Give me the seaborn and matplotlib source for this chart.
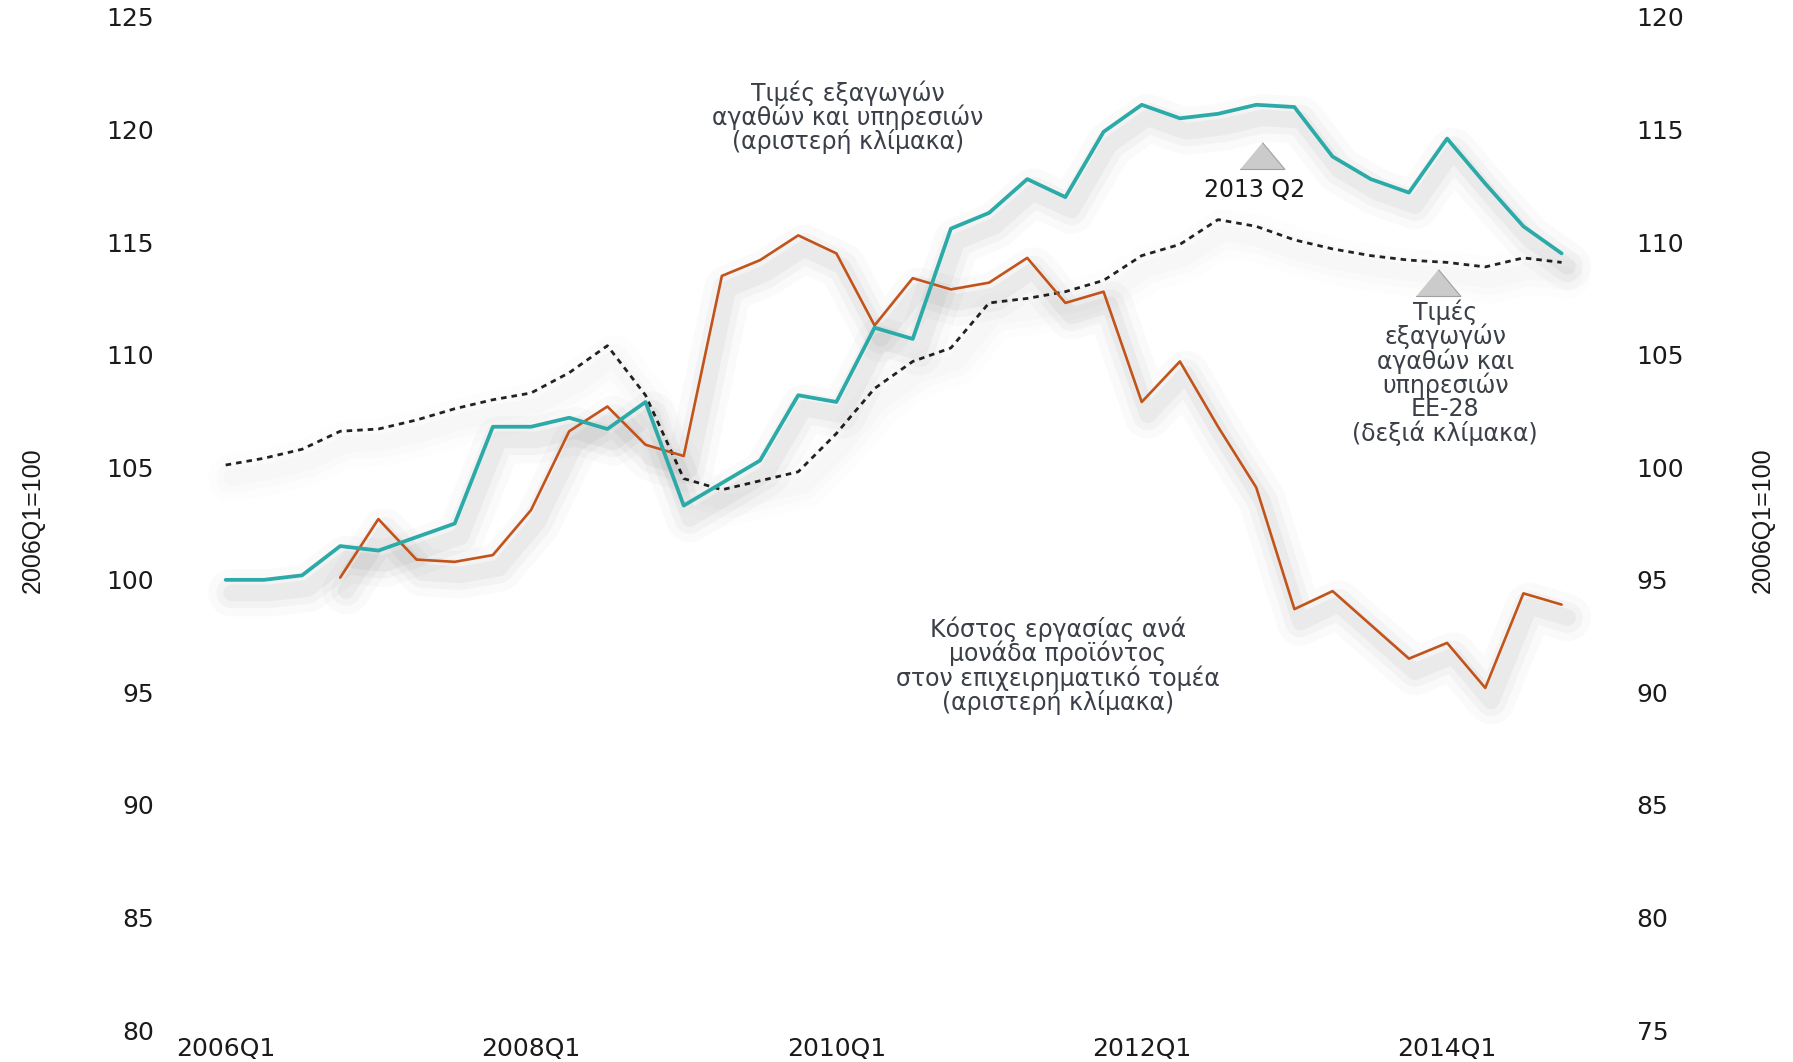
import numpy as np
import pandas as pd
import matplotlib
matplotlib.use("Agg")
import matplotlib.pyplot as plt
from matplotlib.transforms import offset_copy
import seaborn as sns

# τριμηνιαία δεδομένα 2006Q1 - 2014Q4
quarters = [f"{y}Q{q}" for y in range(2006, 2015) for q in range(1, 5)]

# Τιμές εξαγωγών αγαθών και υπηρεσιών (αριστερή κλίμακα)
export_prices_gr = [100.0, 100.0, 100.2, 101.5, 101.3, 101.9, 102.5, 106.8, 106.8, 107.2,
                    106.7, 107.9, 103.3, 104.3, 105.3, 108.2, 107.9, 111.2, 110.7, 115.6,
                    116.3, 117.8, 117.0, 119.9, 121.1, 120.5, 120.7, 121.1, 121.0, 118.8,
                    117.8, 117.2, 119.6, 117.6, 115.7, 114.5]

# Κόστος εργασίας ανά μονάδα προϊόντος (αριστερή κλίμακα), ξεκινά από 2006Q4
ulc_business = [np.nan, np.nan, np.nan, 100.1, 102.7, 100.9, 100.8, 101.1, 103.1, 106.6,
                107.7, 106.0, 105.5, 113.5, 114.2, 115.3, 114.5, 111.3, 113.4, 112.9,
                113.2, 114.3, 112.3, 112.8, 107.9, 109.7, 106.8, 104.1, 98.7, 99.5,
                98.0, 96.5, 97.2, 95.2, 99.4, 98.9]

# Τιμές εξαγωγών ΕΕ-28 (δεξιά κλίμακα)
export_prices_eu = [100.1, 100.4, 100.8, 101.6, 101.7, 102.1, 102.6, 103.0, 103.3, 104.2,
                    105.4, 103.2, 99.5, 99.0, 99.4, 99.8, 101.5, 103.5, 104.7, 105.3,
                    107.3, 107.5, 107.8, 108.3, 109.4, 109.9, 111.0, 110.7, 110.1, 109.7,
                    109.4, 109.2, 109.1, 108.9, 109.3, 109.1]

left_ticks = [80, 85, 90, 95, 100, 105, 110, 115, 120, 125]
right_ticks = [75, 80, 85, 90, 95, 100, 105, 110, 115, 120]
x_tick_labels = ["2006Q1", "2008Q1", "2010Q1", "2012Q1", "2014Q1"]

df = pd.DataFrame({
    "t": np.arange(len(quarters)),
    "gr": export_prices_gr,
    "ulc": ulc_business,
    "eu": export_prices_eu,
})

sns.set_style("white")
plt.rcParams["font.family"] = ["DejaVu Sans"]

teal = "#2baaa7"
orange = "#c2531b"
txt_col = "#3a3f48"

fig = plt.figure(figsize=(17.93, 10.62), dpi=100)
ax = fig.add_axes([0.095, 0.030, 0.81, 0.954])
ax2 = ax.twinx()
ax.set_zorder(ax2.get_zorder() + 1)
ax.patch.set_visible(False)


# απαλή σκιά κάτω από τις γραμμές
def soft_shadow(axis, col, strength=1.0):
    tr = offset_copy(axis.transData, fig=fig, x=6, y=-13, units="dots")
    for lw, al in [(34, 0.02), (22, 0.026), (12, 0.034)]:
        sns.lineplot(data=df, x="t", y=col, ax=axis, color="black", linewidth=lw,
                     alpha=al * strength, transform=tr, solid_capstyle="round",
                     solid_joinstyle="round")


soft_shadow(ax2, "eu", 0.4)
soft_shadow(ax, "ulc")
soft_shadow(ax, "gr")

sns.lineplot(data=df, x="t", y="eu", ax=ax2, color="#222222", linewidth=2.0,
             linestyle=(0, (2, 1.8)))
sns.lineplot(data=df, x="t", y="ulc", ax=ax, color=orange, linewidth=1.9)
sns.lineplot(data=df, x="t", y="gr", ax=ax, color=teal, linewidth=2.7)

ax.set_xlim(-1.45, 36.6)
ax.set_ylim(80, 125)
ax2.set_ylim(75, 120)
ax.set_yticks(left_ticks)
ax2.set_yticks(right_ticks)
ax.set_xticks([quarters.index(q) for q in x_tick_labels])
ax.set_xticklabels(x_tick_labels)

for a in (ax, ax2):
    for s in a.spines.values():
        s.set_visible(False)
    a.tick_params(length=0, labelsize=18, colors="#1a1a1a")
ax.tick_params(axis="y", pad=12)
ax2.tick_params(axis="y", pad=10)
ax.tick_params(axis="x", pad=5)

ax.set_xlabel("")
ax.set_ylabel("")
ax2.set_ylabel("")

# άξονες - ετικέτες
fig.text(0.018, 0.51, "2006Q1=100", rotation=90, ha="center", va="center", fontsize=18,
         family="Liberation Sans", color="#1a1a1a")
fig.text(0.983, 0.51, "2006Q1=100", rotation=90, ha="center", va="center", fontsize=18,
         family="Liberation Sans", color="#1a1a1a")

# τρίγωνα σήμανσης
tri = [(-1, 0), (1, 0), (0, 1.2)]
ax.scatter([27.15, 31.75], [118.25, 112.6], marker=tri, s=1500, color="#cbcbcb",
           edgecolor="#a0a0a0", linewidth=0.8, zorder=5)

# κείμενα
ax.text(16.3, 120.55, "Τιμές εξαγωγών\nαγαθών και υπηρεσιών\n(αριστερή κλίμακα)",
        ha="center", va="center", fontsize=17, color=txt_col, linespacing=0.95)
ax.text(26.95, 117.3, "2013 Q2", ha="center", va="center", fontsize=17, color="#1a1a1a")
ax.text(31.95, 109.2, "Τιμές\nεξαγωγών\nαγαθών και\nυπηρεσιών\nΕΕ-28\n(δεξιά κλίμακα)",
        ha="center", va="center", fontsize=17, color=txt_col, linespacing=0.95)
ax.text(21.8, 96.2, "Κόστος εργασίας ανά\nμονάδα προϊόντος\nστον επιχειρηματικό τομέα\n(αριστερή κλίμακα)",
        ha="center", va="center", fontsize=17, color=txt_col, linespacing=0.95)

fig.savefig("out.png", dpi=100, facecolor="white")
